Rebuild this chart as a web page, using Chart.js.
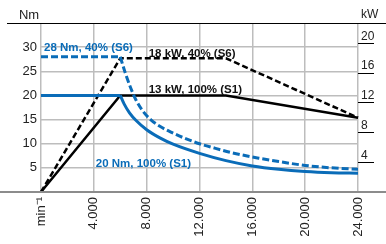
<!DOCTYPE html>
<html>
<head>
<meta charset="utf-8">
<script src="https://cdn.jsdelivr.net/npm/chart.js@4.4.1/dist/chart.umd.min.js"></script>
<style>
  body { margin: 0; background: #fff; }
</style>
</head>
<body>
<canvas id="myChart" width="386" height="244"></canvas>
<script>
  // speed axis and tick labels
  const xTickLabels = ['min\u207B\u00B9', '4.000', '8.000', '12.000', '16.000', '20.000', '24.000'];
  const nmTicks = [5, 10, 15, 20, 25, 30];
  const kwTicks = [4, 8, 12, 16, 20];

  // torque curves (Nm)
  const rpmS1 = [0, 6000, 6300, 6700, 7200, 8000, 9000, 10000, 12000, 14000, 16000, 18000, 20000, 22000, 24000];
  const torqueS1 = [20, 20, 18.2, 16.4, 14.8, 12.9, 11.2, 9.9, 8, 6.5, 5.4, 4.7, 4.25, 4.0, 3.9];
  const rpmS6 = [0, 6000, 6400, 6800, 7200, 7700, 8300, 9000, 10000, 11000, 12000, 13000, 14500, 16500, 18000, 20000, 22000, 24000];
  const torqueS6 = [28, 28, 24.5, 21.5, 19, 16.8, 15, 13.6, 12.2, 11, 10, 9.2, 8.1, 7, 6.3, 5.5, 5.0, 4.7];

  // power curves (kW)
  const rpmPower = [0, 6000, 14000, 24000];
  const powerS1 = [0, 13, 13, 10];
  const powerS6 = [0, 18, 18, 10];

  const notes = [
    { text: '28 Nm, 40% (S6)', x: 230, y: 29.2, color: '#0a6cb8' },
    { text: '18 kW, 40% (S6)', x: 8150, y: 27.9, color: '#111' },
    { text: '13 kW, 100% (S1)', x: 8150, y: 20.6, color: '#111' },
    { text: '20 Nm, 100% (S1)', x: 4150, y: 5.1, color: '#0a6cb8' }
  ];

  const blue = '#0a6cb8';
  const pts = (xs, ys) => xs.map((x, i) => ({ x: x, y: ys[i] }));

  Chart.defaults.font.family = '"Liberation Sans", Arial, sans-serif';
  Chart.defaults.color = '#222';

  const decor = {
    id: 'decor',
    afterDatasetsDraw(chart) {
      const { ctx, chartArea: a, scales } = chart;
      ctx.save();
      ctx.strokeStyle = '#000';
      ctx.lineWidth = 1;
      ctx.beginPath();
      ctx.moveTo(a.left - 34, a.top + 0.5);
      ctx.lineTo(chart.width, a.top + 0.5);
      ctx.stroke();
      ctx.strokeStyle = '#8c8c8c';
      ctx.lineWidth = 2;
      ctx.beginPath();
      ctx.moveTo(0, a.bottom);
      ctx.lineTo(chart.width, a.bottom);
      ctx.stroke();

      ctx.fillStyle = '#222';
      ctx.textBaseline = 'alphabetic';
      ctx.font = '13px "Liberation Sans", Arial, sans-serif';
      ctx.textAlign = 'center';
      ctx.fillText('Nm', a.left - 12, a.top - 4);
      ctx.font = '12px "Liberation Sans", Arial, sans-serif';
      ctx.textAlign = 'left';
      ctx.fillText('kW', a.right + 3, a.top - 5);

      ctx.font = 'bold 11.5px "Liberation Sans", Arial, sans-serif';
      notes.forEach(n => {
        ctx.fillStyle = n.color;
        ctx.fillText(n.text, scales.x.getPixelForValue(n.x), scales.y.getPixelForValue(n.y));
      });
      ctx.restore();
    }
  };

  const line = (data, color, width, dash, axis, curved) => ({
    data: data,
    borderColor: color,
    borderWidth: width,
    borderDash: dash,
    pointRadius: 0,
    fill: false,
    yAxisID: axis,
    tension: 0,
    cubicInterpolationMode: curved ? 'monotone' : 'default',
    clip: 4
  });

  new Chart(document.getElementById('myChart'), {
    type: 'line',
    data: {
      datasets: [
        line(pts(rpmS1.slice(0, 2), torqueS1.slice(0, 2)), blue, 3, [], 'y', false),
        line(pts(rpmS1.slice(1), torqueS1.slice(1)), blue, 3, [], 'y', true),
        line(pts(rpmS6.slice(0, 2), torqueS6.slice(0, 2)), blue, 3, [7, 3], 'y', false),
        line(pts(rpmS6.slice(1), torqueS6.slice(1)), blue, 3, [7, 3], 'y', true),
        line(pts(rpmPower, powerS1), '#000', 2.5, [], 'kw', false),
        line(pts(rpmPower, powerS6), '#000', 2.5, [6, 3], 'kw', false)
      ]
    },
    options: {
      responsive: false,
      animation: false,
      layout: { padding: { top: 23, left: 0, right: 0, bottom: 0 } },
      plugins: { legend: { display: false }, tooltip: { enabled: false } },
      scales: {
        x: {
          type: 'linear',
          min: 0,
          max: 24000,
          afterFit: s => { s.height = 52; },
          afterBuildTicks: s => { s.ticks = xTickLabels.map((t, i) => ({ value: i * 4000 })); },
          grid: { color: '#bdbdbd', lineWidth: 1.5, drawTicks: false },
          border: { display: false },
          ticks: {
            minRotation: 90,
            maxRotation: 90,
            padding: 5,
            font: { size: 13 },
            callback: (v, i) => xTickLabels[i]
          }
        },
        y: {
          position: 'left',
          min: 0,
          max: 35,
          afterFit: s => { s.width = 41; },
          afterBuildTicks: s => { s.ticks = nmTicks.map(v => ({ value: v })); },
          grid: { color: '#bdbdbd', lineWidth: 1.5, drawTicks: false },
          border: { display: false },
          ticks: { padding: 4, font: { size: 13 } }
        },
        kw: {
          position: 'right',
          min: 0,
          max: 22.75,
          afterFit: s => { s.width = 28; },
          afterBuildTicks: s => { s.ticks = kwTicks.map(v => ({ value: v })); },
          grid: { drawOnChartArea: false, drawTicks: true, tickLength: 16, tickColor: '#000', tickWidth: 1 },
          border: { display: false },
          ticks: { padding: -13, labelOffset: -7, font: { size: 12 } }
        }
      }
    },
    plugins: [decor]
  });
</script>
</body>
</html>
